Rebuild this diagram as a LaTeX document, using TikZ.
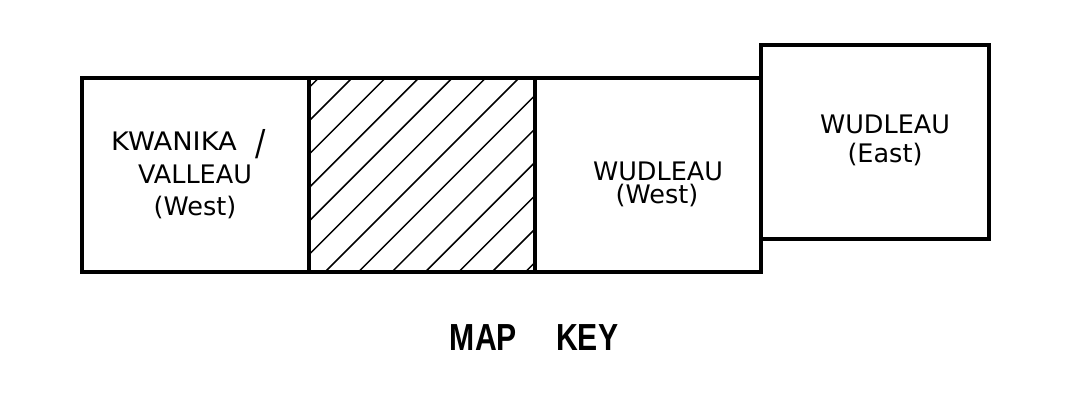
\documentclass[tikz,border=0pt]{standalone}
\usepackage{fontspec}
\setmainfont{DejaVu Sans}
\newfontfamily\keyfont{Liberation Sans}
\begin{document}
\begin{tikzpicture}[x=1pt,y=-1pt,
  frame/.style={line width=4pt, line join=miter},
  hatchline/.style={line width=1.5pt},
  lbl/.style={anchor=base, inner sep=0pt, font=\fontsize{25.5}{30}\selectfont},
  title/.style={anchor=base, inner sep=0pt, font=\keyfont\bfseries\fontsize{37.7}{40}\selectfont}]
\useasboundingbox (0,0) rectangle (1067,410);

% hatched middle cell
\begin{scope}
  \clip (308.7,77.5) rectangle (535,272);
  \foreach \k in {-4,...,14} {
    \pgfmathsetmacro\c{430+33.4*\k}
    \draw[hatchline] ({\c-60},60) -- ({\c-290},290);
  }
\end{scope}

% outlines of the strip and the offset east cell
\draw[frame] (82,77.5) rectangle (761,272);
\draw[frame] (308.7,77.5) -- (308.7,272);
\draw[frame] (535,77.5) -- (535,272);
\draw[frame] (761,45) rectangle (989,239);

% cell labels
\node[lbl, anchor=base west] (kw1) at (111,150)
  {\scalebox{1.07}[1]{KWANIKA}\hspace{0.75em}\raisebox{-5pt}{\scalebox{1.2}[1.4]{/}}};
\node[lbl] (kw2) at (195,183) {VALLEAU};
\node[lbl] (kw3) at (195,215) {(West)};
\node[lbl] (ww1) at (658,180) {WUDLEAU};
\node[lbl] (ww2) at (657,203) {(West)};
\node[lbl] (we1) at (885,133) {WUDLEAU};
\node[lbl] (we2) at (885,162) {(East)};

% caption
\node[title] (key) at (534,350) {\scalebox{0.8}[1]{MAP\hspace{1.3em}KEY}};
\end{tikzpicture}
\end{document}
